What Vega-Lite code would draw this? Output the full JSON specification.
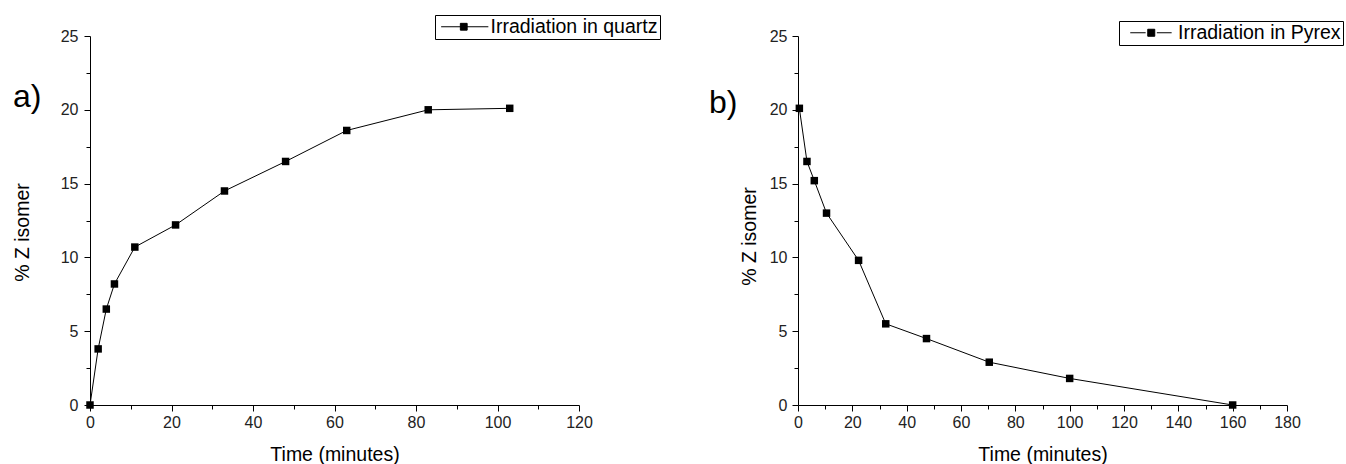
{
  "$schema": "https://vega.github.io/schema/vega-lite/v6.json",
  "background": "white",
  "padding": {"left": 12, "top": 14, "right": 0, "bottom": 0},
  "bounds": "flush",
  "spacing": 219,
  "resolve": {"scale": {"color": "independent"}, "legend": {"color": "independent"}},
  "config": {
    "view": {"stroke": null},
    "axis": {
      "grid": false,
      "domainColor": "black",
      "tickColor": "black",
      "labelColor": "#222",
      "labelFont": "Liberation Sans",
      "labelFontSize": 16,
      "labelFlush": false,
      "titleFont": "Liberation Sans",
      "titleFontSize": 19.5,
      "titleFontWeight": "normal",
      "titleColor": "black",
      "tickSize": 6,
      "domainWidth": 1,
      "tickWidth": 1
    },
    "legend": {"labelLimit": 0}
  },
  "datasets": {
    "quartz": [
      {"time": 0, "pct": 0, "series": "Irradiation in quartz"},
      {"time": 2, "pct": 3.8, "series": "Irradiation in quartz"},
      {"time": 4, "pct": 6.5, "series": "Irradiation in quartz"},
      {"time": 6, "pct": 8.2, "series": "Irradiation in quartz"},
      {"time": 11, "pct": 10.7, "series": "Irradiation in quartz"},
      {"time": 21, "pct": 12.2, "series": "Irradiation in quartz"},
      {"time": 33, "pct": 14.5, "series": "Irradiation in quartz"},
      {"time": 48, "pct": 16.5, "series": "Irradiation in quartz"},
      {"time": 63, "pct": 18.6, "series": "Irradiation in quartz"},
      {"time": 83, "pct": 20.0, "series": "Irradiation in quartz"},
      {"time": 103, "pct": 20.1, "series": "Irradiation in quartz"}
    ],
    "pyrex": [
      {"time": 0.5, "pct": 20.1, "series": "Irradiation in Pyrex"},
      {"time": 3.3, "pct": 16.5, "series": "Irradiation in Pyrex"},
      {"time": 6, "pct": 15.2, "series": "Irradiation in Pyrex"},
      {"time": 10.5, "pct": 13.0, "series": "Irradiation in Pyrex"},
      {"time": 22.3, "pct": 9.8, "series": "Irradiation in Pyrex"},
      {"time": 32.3, "pct": 5.5, "series": "Irradiation in Pyrex"},
      {"time": 47.3, "pct": 4.5, "series": "Irradiation in Pyrex"},
      {"time": 70.4, "pct": 2.9, "series": "Irradiation in Pyrex"},
      {"time": 100, "pct": 1.8, "series": "Irradiation in Pyrex"},
      {"time": 160, "pct": 0, "series": "Irradiation in Pyrex"}
    ]
  },
  "hconcat": [
    {
      "width": 489,
      "height": 369,
      "title": {"text": "a)", "anchor": "start", "frame": "group", "orient": "top", "dx": -77, "dy": 124, "offset": 0, "baseline": "alphabetic", "fontSize": 32, "fontWeight": "normal", "font": "Liberation Sans", "color": "black"},
      "data": {"name": "quartz"},
      "layer": [
        {
          "mark": {"type": "line", "strokeWidth": 1},
          "encoding": {
            "x": {"field": "time", "type": "quantitative", "scale": {"domain": [0, 120], "nice": false},
                  "axis": {"orient": "bottom", "values": [0, 20, 40, 60, 80, 100, 120], "format": "d", "title": "Time (minutes)", "labelPadding": 3, "titlePadding": 15}},
            "y": {"field": "pct", "type": "quantitative", "scale": {"domain": [0, 25], "nice": false},
                  "axis": {"orient": "left", "values": [0, 5, 10, 15, 20, 25], "format": "d", "title": "% Z isomer", "labelPadding": 6, "titlePadding": 28, "titleY": 196}},
            "color": {"field": "series", "type": "nominal", "scale": {"range": ["black"]},
                      "legend": {"orient": "none", "legendX": 345, "legendY": -21, "title": null,
                                 "symbolType": "M-5.9,0H5.9M-1.1,-0.85H0.6V0.85H-1.1Z", "symbolSize": 64, "symbolStrokeWidth": 1,
                                 "symbolOffset": 18, "labelOffset": 16, "padding": 2, "strokeColor": "black", "fillColor": "white",
                                 "labelFont": "Liberation Sans", "labelFontSize": 19.5, "labelColor": "black", "labelLimit": 0,
                                 "encode": {"symbols": {"update": {"fill": {"value": "black"}, "stroke": {"value": "black"}, "strokeWidth": {"value": 1}, "opacity": {"value": 1}}}}}}
          }
        },
        {
          "mark": {"type": "point", "shape": "square", "filled": true, "size": 56, "opacity": 1},
          "encoding": {
            "x": {"field": "time", "type": "quantitative", "axis": null},
            "y": {"field": "pct", "type": "quantitative", "axis": null},
            "color": {"field": "series", "type": "nominal", "scale": {"range": ["black"]},
                      "legend": {"orient": "none", "legendX": 345, "legendY": -21, "title": null,
                                 "symbolType": "M-5.9,0H5.9M-1.1,-0.85H0.6V0.85H-1.1Z", "symbolSize": 64, "symbolStrokeWidth": 1,
                                 "symbolOffset": 18, "labelOffset": 16, "padding": 2, "strokeColor": "black", "fillColor": "white",
                                 "labelFont": "Liberation Sans", "labelFontSize": 19.5, "labelColor": "black", "labelLimit": 0,
                                 "encode": {"symbols": {"update": {"fill": {"value": "black"}, "stroke": {"value": "black"}, "strokeWidth": {"value": 1}, "opacity": {"value": 1}}}}}}
          }
        },
        {
          "mark": {"type": "point", "opacity": 0},
          "encoding": {
            "x": {"field": "time", "type": "quantitative",
                  "axis": {"orient": "bottom", "values": [10, 30, 50, 70, 90, 110], "labels": false, "domain": false, "tickSize": 4, "title": null}},
            "y": {"field": "pct", "type": "quantitative",
                  "axis": {"orient": "left", "values": [2.5, 7.5, 12.5, 17.5, 22.5], "labels": false, "domain": false, "tickSize": 4, "title": null}}
          }
        }
      ],
      "resolve": {"axis": {"x": "independent", "y": "independent"}}
    },
    {
      "width": 489,
      "height": 369,
      "title": {"text": "b)", "anchor": "start", "frame": "group", "orient": "top", "dx": -89, "dy": 124, "offset": 0, "baseline": "alphabetic", "fontSize": 32, "fontWeight": "normal", "font": "Liberation Sans", "color": "black"},
      "data": {"name": "pyrex"},
      "layer": [
        {
          "mark": {"type": "line", "strokeWidth": 1},
          "encoding": {
            "x": {"field": "time", "type": "quantitative", "scale": {"domain": [0, 180], "nice": false},
                  "axis": {"orient": "bottom", "values": [0, 20, 40, 60, 80, 100, 120, 140, 160, 180], "format": "d", "title": "Time (minutes)", "labelPadding": 3, "titlePadding": 15}},
            "y": {"field": "pct", "type": "quantitative", "scale": {"domain": [0, 25], "nice": false},
                  "axis": {"orient": "left", "values": [0, 5, 10, 15, 20, 25], "format": "d", "title": "% Z isomer", "labelPadding": 5, "titlePadding": 10, "titleY": 200}},
            "color": {"field": "series", "type": "nominal", "scale": {"range": ["black"]},
                      "legend": {"orient": "none", "legendX": 321, "legendY": -15, "title": null,
                                 "symbolType": "M-5.25,0H-1.4M1.4,0H5.1M-0.875,-0.875H0.875V0.875H-0.875Z", "symbolSize": 64, "symbolStrokeWidth": 1,
                                 "symbolOffset": 20.5, "labelOffset": 17, "padding": 2, "strokeColor": "black", "fillColor": "white",
                                 "labelFont": "Liberation Sans", "labelFontSize": 19.5, "labelColor": "black", "labelLimit": 0,
                                 "encode": {"symbols": {"update": {"fill": {"value": "black"}, "stroke": {"value": "black"}, "strokeWidth": {"value": 1}, "opacity": {"value": 1}}}}}}
          }
        },
        {
          "mark": {"type": "point", "shape": "square", "filled": true, "size": 56, "opacity": 1},
          "encoding": {
            "x": {"field": "time", "type": "quantitative", "axis": null},
            "y": {"field": "pct", "type": "quantitative", "axis": null},
            "color": {"field": "series", "type": "nominal", "scale": {"range": ["black"]},
                      "legend": {"orient": "none", "legendX": 321, "legendY": -15, "title": null,
                                 "symbolType": "M-5.25,0H-1.4M1.4,0H5.1M-0.875,-0.875H0.875V0.875H-0.875Z", "symbolSize": 64, "symbolStrokeWidth": 1,
                                 "symbolOffset": 20.5, "labelOffset": 17, "padding": 2, "strokeColor": "black", "fillColor": "white",
                                 "labelFont": "Liberation Sans", "labelFontSize": 19.5, "labelColor": "black", "labelLimit": 0,
                                 "encode": {"symbols": {"update": {"fill": {"value": "black"}, "stroke": {"value": "black"}, "strokeWidth": {"value": 1}, "opacity": {"value": 1}}}}}}
          }
        },
        {
          "mark": {"type": "point", "opacity": 0},
          "encoding": {
            "x": {"field": "time", "type": "quantitative",
                  "axis": {"orient": "bottom", "values": [10, 30, 50, 70, 90, 110, 130, 150, 170], "labels": false, "domain": false, "tickSize": 4, "title": null}},
            "y": {"field": "pct", "type": "quantitative",
                  "axis": {"orient": "left", "values": [2.5, 7.5, 12.5, 17.5, 22.5], "labels": false, "domain": false, "tickSize": 4, "title": null}}
          }
        }
      ],
      "resolve": {"axis": {"x": "independent", "y": "independent"}}
    }
  ]
}
